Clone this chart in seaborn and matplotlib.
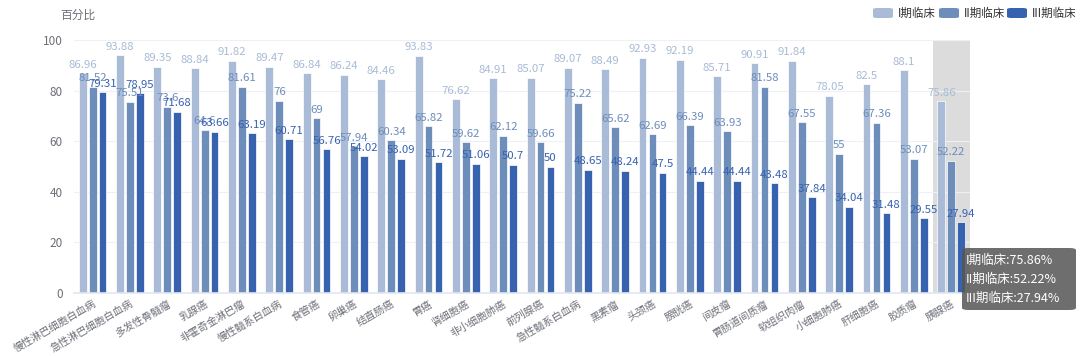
import matplotlib
matplotlib.use("Agg")
import matplotlib.pyplot as plt
import seaborn as sns
import pandas as pd
from matplotlib.patches import FancyBboxPatch

categories = ["慢性淋巴细胞白血病", "急性淋巴细胞白血病", "多发性骨髓瘤", "乳腺癌", "非霍奇金淋巴瘤",
              "慢性髓系白血病", "食管癌", "卵巢癌", "结直肠癌", "胃癌", "肾细胞癌", "非小细胞肺癌",
              "前列腺癌", "急性髓系白血病", "黑素瘤", "头颈癌", "膀胱癌", "间皮瘤", "胃肠道间质瘤",
              "软组织肉瘤", "小细胞肺癌", "肝细胞癌", "胶质瘤", "胰腺癌"]
series_names = ["I期临床", "II期临床", "III期临床"]
phase1 = [86.96, 93.88, 89.35, 88.84, 91.82, 89.47, 86.84, 86.24, 84.46, 93.83, 76.62, 84.91,
          85.07, 89.07, 88.49, 92.93, 92.19, 85.71, 90.91, 91.84, 78.05, 82.5, 88.1, 75.86]
phase2 = [81.52, 75.51, 73.6, 64.6, 81.61, 76, 69, 57.94, 60.34, 65.82, 59.62, 62.12,
          59.66, 75.22, 65.62, 62.69, 66.39, 63.93, 81.58, 67.55, 55, 67.36, 53.07, 52.22]
phase3 = [79.31, 78.95, 71.68, 63.66, 63.19, 60.71, 56.76, 54.02, 53.09, 51.72, 51.06, 50.7,
          50, 48.65, 48.24, 47.5, 44.44, 44.44, 43.48, 37.84, 34.04, 31.48, 29.55, 27.94]
colors = ["#a9bbd6", "#6d8dbb", "#3762b0"]
y_ticks = [0, 20, 40, 60, 80, 100]

rows = []
for name, vals in zip(series_names, [phase1, phase2, phase3]):
    for c, v in zip(categories, vals):
        rows.append({"cat": c, "val": v, "series": name})
df = pd.DataFrame(rows)

sns.set_theme(style="white")
plt.rcParams['font.family'] = ['Noto Sans CJK SC', 'DejaVu Sans']

fig = plt.figure(figsize=(10.8, 3.56), dpi=100)
ax = fig.add_axes([0.0685, 0.177, 0.898 - 0.0685, 0.8876 - 0.177])

# highlight band for hovered category
hi = len(categories) - 1
ax.axvspan(hi - 0.5, hi + 0.5, color="#dcdcdc", zorder=0, lw=0)

sns.barplot(data=df, x="cat", y="val", hue="series", palette=colors, width=0.8, gap=0.22,
            saturation=1, ax=ax, legend=False, edgecolor="white", linewidth=0.5, zorder=2)

for cont, col in zip(ax.containers, colors):
    ax.bar_label(cont, labels=[f"{v:g}" for v in cont.datavalues], padding=2.5,
                 color=col, fontsize=8.2, zorder=3)

ax.set_ylim(0, 100)
ax.set_xlim(-0.5, len(categories) - 0.5)
ax.set_yticks(y_ticks)
ax.set_yticklabels([str(t) for t in y_ticks], color="#6e7079", fontsize=8.5)
ax.yaxis.grid(True, color="#eef0f5", lw=0.8, zorder=0)
ax.set_axisbelow(True)
for s in ["top", "right", "left"]:
    ax.spines[s].set_visible(False)
ax.spines["bottom"].set_color("#e0e6f1")
ax.spines["bottom"].set_linewidth(1.2)
ax.tick_params(axis="y", length=0, pad=8)
ax.tick_params(axis="x", length=0, pad=4)
ax.set_xlabel("")
ax.set_ylabel("")
ax.set_xticks(range(len(categories)))
ax.set_xticklabels(categories, rotation=30, ha="right", rotation_mode="anchor",
                   color="#6e7079", fontsize=7.5)

fig.text(60 / 1080, 1 - 15 / 356, "百分比", fontsize=8.5, color="#6e7079", va="center", ha="left")

# legend
leg_x = [873, 939, 1007]
for x0, col, name in zip(leg_x, colors, series_names):
    fig.patches.append(FancyBboxPatch((x0 / 1080, 1 - 18 / 356), 20 / 1080, 10 / 356,
                                      boxstyle="round,pad=0,rounding_size=0.004",
                                      transform=fig.transFigure, facecolor=col, edgecolor="none"))
    fig.text((x0 + 25) / 1080, 1 - 13 / 356, name, fontsize=8.3, color="#333333",
             va="center", ha="left")

# tooltip
fig.patches.append(FancyBboxPatch((962 / 1080, 1 - 310 / 356), 114 / 1080, 62 / 356,
                                  boxstyle="round,pad=0,rounding_size=0.006",
                                  transform=fig.transFigure, facecolor="#555555",
                                  edgecolor="none", alpha=0.85, zorder=5))
tips = [f"{series_names[0]}:{phase1[hi]}%", f"{series_names[1]}:{phase2[hi]}%",
        f"{series_names[2]}:{phase3[hi]}%"]
for i, t in enumerate(tips):
    fig.text(966 / 1080, 1 - (260 + i * 19) / 356, t, fontsize=9, color="white",
             va="center", ha="left", zorder=6)

fig.savefig("out.png", dpi=100)
